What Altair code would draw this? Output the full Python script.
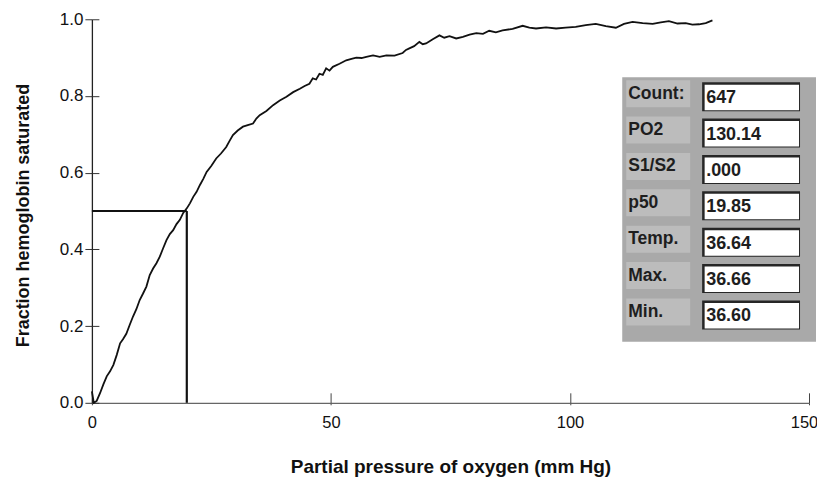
import altair as alt
import pandas as pd

# ---- curve data ----
po2 = [0, 0.4, 1.0, 1.7, 2.4, 3.1, 3.8, 4.5, 5.2, 5.9, 6.5, 7.2, 7.9, 8.6, 9.3, 10.0,
       10.7, 11.4, 12.1, 12.8, 13.5, 14.2, 14.9, 15.6, 16.3, 17.0, 17.7, 18.4, 19.1,
       19.85, 20.5, 21.2, 21.9, 22.6, 23.3, 24.0, 25.0, 26.0, 27.0, 28.1, 28.8, 29.5,
       30.5, 31.6, 32.6, 33.7, 34.4, 35.1, 36.5, 37.9, 39.3, 40.7, 42.1, 43.5, 44.5,
       45.5, 46.2, 46.9, 47.6, 48.3, 49.0, 49.7, 50.4, 51.8, 53.2, 54.3, 55.3, 56.4,
       57.4, 58.8, 60.2, 61.6, 63.3, 65.0, 65.7, 66.4, 67.4, 68.5, 69.2, 69.9, 71.3,
       72.7, 73.7, 74.8, 76.2, 77.6, 79.0, 80.4, 81.8, 83.1, 84.5, 85.9, 88.0, 90.1,
       91.5, 92.9, 95.0, 97.1, 99.1, 101.2, 103.3, 105.4, 107.5, 109.6, 111.3, 113.1,
       115.2, 117.3, 119.0, 120.7, 122.5, 124.2, 125.6, 127.0, 128.4, 129.8]
sat = [0.03, 0.0, 0.005, 0.025, 0.048, 0.069, 0.082, 0.099, 0.125, 0.155, 0.166, 0.18,
       0.203, 0.225, 0.244, 0.268, 0.285, 0.303, 0.333, 0.35, 0.364, 0.381, 0.403,
       0.424, 0.44, 0.45, 0.466, 0.477, 0.495, 0.507, 0.52, 0.537, 0.55, 0.568, 0.584,
       0.602, 0.618, 0.637, 0.65, 0.667, 0.683, 0.698, 0.71, 0.72, 0.724, 0.728, 0.741,
       0.75, 0.761, 0.776, 0.788, 0.798, 0.81, 0.819, 0.826, 0.832, 0.846, 0.843,
       0.858, 0.855, 0.872, 0.866, 0.876, 0.884, 0.893, 0.897, 0.9, 0.899, 0.902,
       0.906, 0.902, 0.906, 0.905, 0.912, 0.92, 0.924, 0.93, 0.941, 0.935, 0.937,
       0.948, 0.958, 0.952, 0.956, 0.95, 0.954, 0.96, 0.964, 0.962, 0.97, 0.966,
       0.971, 0.975, 0.983, 0.978, 0.976, 0.979, 0.976, 0.978, 0.98, 0.985, 0.988,
       0.982, 0.978, 0.988, 0.993, 0.99, 0.988, 0.992, 0.995, 0.989, 0.99, 0.986,
       0.987, 0.99, 0.997]

p50 = 19.85
half_sat = 0.5

x_ticks = [0, 50, 100, 150]
y_ticks = [0.0, 0.2, 0.4, 0.6, 0.8, 1.0]

# ---- inset readout panel ----
panel_labels = ["Count:", "PO2", "S1/S2", "p50", "Temp.", "Max.", "Min."]
panel_values = ["647", "130.14", ".000", "19.85", "36.64", "36.66", "36.60"]

curve = pd.DataFrame({"po2": po2, "sat": sat})
hline = pd.DataFrame({"x0": [0.0], "x1": [p50], "y": [half_sat]})
vline = pd.DataFrame({"x": [p50], "y0": [0.0], "y1": [half_sat]})
rows = pd.DataFrame({"row": list(range(len(panel_labels))),
                     "label": panel_labels, "value": panel_values})
panel = pd.DataFrame({"top": [-0.535], "bottom": [6.74]})

XS = alt.Scale(domain=[0, 150], nice=False, zero=False)
YS = alt.Scale(domain=[0, 1], nice=False, zero=False)
TS = alt.Scale(domain=[0, 6], range=[77.5, 296], nice=False, zero=False)

LABEL_FONT = "Liberation Sans"
TITLE_FONT = "Liberation Sans"

x_main = alt.Axis(orient="bottom", values=x_ticks, format="d", grid=False,
                  tickSize=2, tickColor="#444", domainColor="#666", domainWidth=1.2,
                  labelFont=LABEL_FONT, labelFontSize=16.5, labelColor="#111",
                  labelPadding=10, labelFlush=False,
                  labelOffset={"condition": {"test": "datum.value === 150", "value": -5},
                               "value": 0},
                  title="Partial pressure of oxygen (mm Hg)", titleFont=TITLE_FONT,
                  titleFontWeight="bold", titleFontSize=19, titleColor="#111",
                  titleX=359, titleY=70, titleBaseline="alphabetic", titleAlign="center")
y_main = alt.Axis(orient="left", values=y_ticks, format=".1f", grid=False,
                  tickSize=7, tickColor="#333", domainColor="#222", domainWidth=1.3,
                  labelFont=LABEL_FONT, labelFontSize=17, labelColor="#111",
                  labelPadding=2, labelFlush=False,
                  title="Fraction hemoglobin saturated", titleFont=TITLE_FONT,
                  titleFontWeight="bold", titleFontSize=18, titleColor="#111",
                  titleAngle=270, titleX=-63, titleY=196, titleAlign="center",
                  titleBaseline="alphabetic")
x_inner = alt.Axis(orient="bottom", values=x_ticks, grid=False, offset=-10,
                   tickSize=10, tickColor="#444", labels=False, domain=False, title="")
y_inner = alt.Axis(orient="left", values=y_ticks, grid=False, offset=-7,
                   tickSize=7, tickColor="#333", labels=False, domain=False, title="")

line = alt.Chart(curve).mark_line(color="#111", strokeWidth=1.8, clip=False).encode(
    x=alt.X("po2:Q", scale=XS, axis=x_main),
    y=alt.Y("sat:Q", scale=YS, axis=y_main),
)

h_rule = alt.Chart(hline).mark_rule(color="#111", strokeWidth=2).encode(
    x=alt.X("x0:Q", scale=XS, axis=x_inner), x2="x1:Q",
    y=alt.Y("y:Q", scale=YS, axis=y_inner),
)
v_rule = alt.Chart(vline).mark_rule(color="#111", strokeWidth=2.2).encode(
    x=alt.X("x:Q", scale=XS, axis=None),
    y=alt.Y("y0:Q", scale=YS, axis=None), y2="y1:Q",
)

px = 1 / 36.4  # one pixel in row units

panel_bg = alt.Chart(panel).mark_rect(color="#a9a9a9").encode(
    x=alt.value(531), x2=alt.value(725),
    y=alt.Y("top:Q", scale=TS, axis=None), y2="bottom:Q",
)
label_box = alt.Chart(rows).transform_calculate(
    t=f"datum.row - {16.5 * px}", b=f"datum.row + {10.5 * px}"
).mark_rect(color="#bcbcbc").encode(
    x=alt.value(535), x2=alt.value(599),
    y=alt.Y("t:Q", scale=TS, axis=None), y2="b:Q",
)
value_edge = alt.Chart(rows).transform_calculate(
    t=f"datum.row - {14.5 * px}", b=f"datum.row + {14.5 * px}"
).mark_rect(color="#262626").encode(
    x=alt.value(611), x2=alt.value(709),
    y=alt.Y("t:Q", scale=TS, axis=None), y2="b:Q",
)
value_box = alt.Chart(rows).transform_calculate(
    t=f"datum.row - {12 * px}", b=f"datum.row + {13.5 * px}"
).mark_rect(color="#ffffff").encode(
    x=alt.value(613.5), x2=alt.value(708),
    y=alt.Y("t:Q", scale=TS, axis=None), y2="b:Q",
)
label_text = alt.Chart(rows).mark_text(
    align="left", baseline="middle", dy=-3, font="Liberation Sans",
    fontWeight="bold", fontSize=17.5, color="#1e1e1e"
).encode(
    x=alt.value(537), y=alt.Y("row:Q", scale=TS, axis=None), text="label:N",
)
value_text = alt.Chart(rows).mark_text(
    align="left", baseline="middle", dy=1.5, font="Liberation Sans",
    fontWeight="bold", fontSize=18, color="#1e1e1e"
).encode(
    x=alt.value(615), y=alt.Y("row:Q", scale=TS, axis=None), text="value:N",
)

chart = alt.layer(
    line, h_rule, v_rule, panel_bg, label_box, value_edge, value_box,
    label_text, value_text
).resolve_scale(x="independent", y="independent").resolve_axis(
    x="independent", y="independent"
).properties(
    width=718, height=384,
    autosize=alt.AutoSizeParams(type="none"),
    padding={"left": 84, "top": 11, "right": 8, "bottom": 75},
    background="white",
).configure_view(stroke=None)

chart.save("out.html", embed_options={"renderer": "svg", "actions": False})
